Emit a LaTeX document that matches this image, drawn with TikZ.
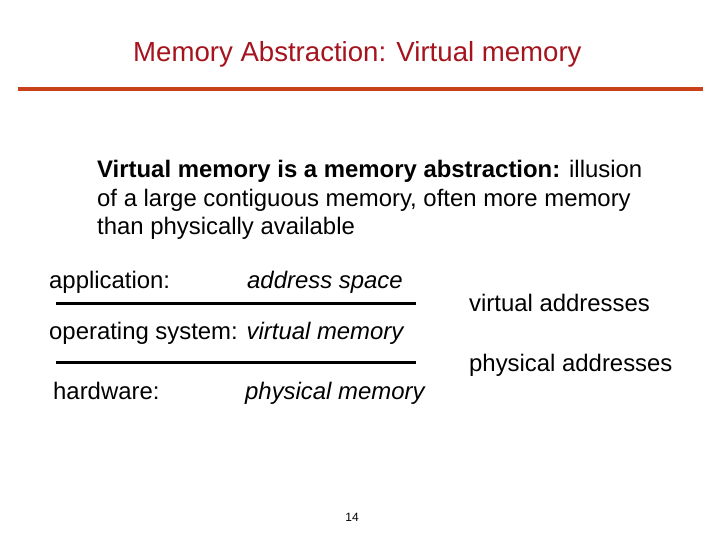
\documentclass[tikz,border=0pt]{standalone}
\usepackage{fontspec}
\setmainfont{Liberation Sans}
\definecolor{titlered}{RGB}{165,20,30}
\definecolor{rulered}{RGB}{200,65,25}

\begin{document}
\begin{tikzpicture}[x=1pt, y=-1pt,
  txt/.style={anchor=base west, inner sep=0pt, font=\fontsize{23.9}{28}\selectfont},
  layer/.style={line width=3pt}]
  \useasboundingbox (0,0) rectangle (720,540);

  % title and rule
  \node[txt, text=titlered, font=\fontsize{27.6}{32}\selectfont] (title) at (133,62) {Memory Abstraction: Virtual memory};
  \coordinate (RL) at (18,89);
  \coordinate (RR) at (703,89);
  \draw[rulered, line width=4pt] (RL) -- (RR);

  % definition
  \node[txt] (def1) at (97,178) {\textbf{Virtual memory is a memory abstraction:} illusion};
  \node[txt] (def2) at (97,207) {of a large contiguous memory, often more memory};
  \node[txt] (def3) at (97,235) {than physically available};

  % layers
  \node[txt] (app)   at (49,288)  {application:};
  \node[txt] (aspc)  at (247,288) {\itshape address space};
  \node[txt] (os)    at (49,339)  {operating system: \itshape virtual memory};
  \node[txt] (hw)    at (53,399)  {hardware:};
  \node[txt] (pmem)  at (245,399) {\itshape physical memory};

  \coordinate (L1a) at (56,303);
  \coordinate (L1b) at (416,303);
  \coordinate (L2a) at (56,362);
  \coordinate (L2b) at (416,362);
  \draw[layer] (L1a) -- (L1b);
  \draw[layer] (L2a) -- (L2b);

  \node[txt] (vaddr) at (469,311) {virtual addresses};
  \node[txt] (paddr) at (469,371) {physical addresses};

  % page number
  \node[anchor=base, inner sep=0pt, font=\fontsize{12}{14}\selectfont] (page) at (352,521) {14};
\end{tikzpicture}
\end{document}
